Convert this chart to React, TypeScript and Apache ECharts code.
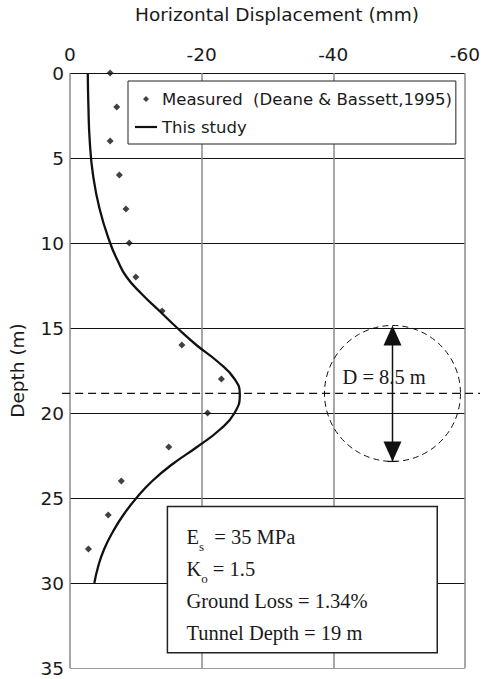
import React, { useEffect, useRef } from "react";
import * as echarts from "echarts";

// ---- data ----
const measuredDepth = [0, 2, 4, 6, 8, 10, 12, 14, 16, 18, 20, 22, 24, 26, 28];
const measuredDisp = [-6.1, -7.1, -6.1, -7.5, -8.5, -9.0, -10.0, -14.0, -17.0, -23.0, -20.9, -15.0, -7.8, -5.8, -2.8];

const modelDepth = [0, 2, 4, 6, 8, 10, 11, 12, 13, 14, 15, 16, 17, 18, 18.9, 20, 21, 22, 23, 24, 25, 26, 27, 28, 29, 30];
const modelDisp = [-2.7, -2.8, -3.0, -3.5, -4.5, -6.1, -7.2, -8.6, -10.9, -13.6, -16.3, -19.2, -22.5, -25.0, -25.8, -25.0, -22.7, -19.3, -15.6, -12.5, -10.1, -8.1, -6.5, -5.2, -4.3, -3.7];

const MEASURED = "Measured  (Deane & Bassett,1995)";
const MODEL = "This study";
const X_TITLE = "Horizontal Displacement (mm)";
const Y_TITLE = "Depth (m)";
const TUNNEL_LABEL = "D = 8.5 m";

// parameter box lines: [main, subscript, rest]
const paramLines: [string, string, string][] = [
  ["E", "s", "  = 35 MPa"],
  ["K", "o", " = 1.5"],
  ["Ground Loss = 1.34%", "", ""],
  ["Tunnel Depth = 19 m", "", ""],
];

// annotation geometry (data units)
const TUNNEL_X = -49;
const TUNNEL_DEPTH = 18.85;
const TUNNEL_R = 4.0;
const DASH_X0 = 1.2;
const DASH_X1 = -62.3;
const BOX_X0 = -14.8;
const BOX_X1 = -55.8;
const BOX_Y0 = 25.5;
const BOX_Y1 = 34.1;

const SANS = "DejaVu Sans";
const SERIF = "Liberation Serif";
const INK = "#1a1a1a";

export default function App() {
  const ref = useRef<HTMLDivElement>(null);

  useEffect(() => {
    if (!ref.current) return;
    const chart = echarts.init(ref.current, undefined, { renderer: "svg" });

    const richText = paramLines
      .map(([a, s, b]) => {
        let t = `{m|${a}}`;
        if (s) t += `{s|${s}}`;
        if (b) t += `{m|${b}}`;
        return t;
      })
      .join("\n");

    const option: any = {
      animation: false,
      backgroundColor: "#fff",
      title: {
        text: X_TITLE,
        left: 135,
        top: 5,
        padding: 0,
        textStyle: { fontFamily: SANS, fontSize: 18.5, fontWeight: "normal", color: INK },
      },
      legend: {
        left: 128,
        top: 81,
        orient: "vertical",
        data: [
          { name: MEASURED, icon: "path://M3 0L6 3L3 6L0 3Z" },
          { name: MODEL, icon: "path://M0 0H22V2.2H0Z" },
        ],
        itemWidth: 22,
        itemHeight: 6,
        itemGap: 8,
        padding: [8, 4, 7, 7],
        borderColor: "#222",
        borderWidth: 1,
        borderRadius: 0,
        backgroundColor: "#fff",
        selectedMode: false,
        textStyle: { fontFamily: SANS, fontSize: 16.5, color: INK, lineHeight: 20 },
        z: 10,
      },
      grid: { left: 68, right: 17, top: 73, bottom: 11 },
      xAxis: {
        type: "value",
        position: "top",
        min: -60,
        max: 0,
        interval: 20,
        inverse: true,
        axisLine: { show: false },
        axisTick: { show: false },
        axisLabel: { fontFamily: SANS, fontSize: 18.5, color: INK, margin: 9 },
        splitLine: { show: true, lineStyle: { color: "#8a8a8a", width: 1.5 } },
      },
      yAxis: {
        type: "value",
        min: 0,
        max: 35,
        interval: 5,
        inverse: true,
        name: Y_TITLE,
        nameLocation: "middle",
        nameRotate: 90,
        nameGap: 43,
        nameTextStyle: { fontFamily: SANS, fontSize: 18.5, color: INK },
        axisLine: { show: false },
        axisTick: { show: false },
        axisLabel: { fontFamily: SANS, fontSize: 18.5, color: INK, margin: 6 },
        splitLine: {
          show: true,
          lineStyle: {
            color: ["#111", "#111", "#111", "#111", "#111", "#111", "#111", "#999"],
            width: 1,
          },
        },
      },
      series: [
        {
          name: MEASURED,
          type: "scatter",
          symbol: "diamond",
          symbolSize: 7,
          itemStyle: { color: "#111" },
          data: measuredDepth.map((d, i) => [measuredDisp[i], d]),
          z: 4,
        },
        {
          name: MODEL,
          type: "line",
          smooth: 0.5,
          symbol: "none",
          lineStyle: { color: "#111", width: 2.3 },
          itemStyle: { color: "#111" },
          data: modelDepth.map((d, i) => [modelDisp[i], d]),
          z: 3,
        },
        {
          name: "annotations",
          type: "custom",
          silent: true,
          clip: false,
          z: 5,
          data: [[TUNNEL_X, TUNNEL_DEPTH]],
          renderItem: (_p: any, api: any) => {
            const [cx, cy] = api.coord([TUNNEL_X, TUNNEL_DEPTH]);
            const r = Math.abs(api.coord([TUNNEL_X, TUNNEL_DEPTH + TUNNEL_R])[1] - cy);
            const lx0 = api.coord([DASH_X0, TUNNEL_DEPTH])[0];
            const lx1 = api.coord([DASH_X1, TUNNEL_DEPTH])[0];
            const [bx0, by0] = api.coord([BOX_X0, BOX_Y0]);
            const [bx1, by1] = api.coord([BOX_X1, BOX_Y1]);
            const ah = 20;
            const aw = 9;
            return {
              type: "group",
              children: [
                {
                  type: "line",
                  shape: { x1: lx0, y1: cy, x2: lx1, y2: cy },
                  style: { stroke: "#111", lineWidth: 1.2, lineDash: [8, 5] },
                },
                {
                  type: "circle",
                  shape: { cx, cy, r },
                  style: { fill: "none", stroke: "#111", lineWidth: 1, lineDash: [6, 4] },
                },
                {
                  type: "line",
                  shape: { x1: cx, y1: cy - r + 4, x2: cx, y2: cy + r },
                  style: { stroke: "#111", lineWidth: 1.5 },
                },
                {
                  type: "polygon",
                  shape: { points: [[cx, cy - r], [cx - aw, cy - r + ah], [cx + aw, cy - r + ah]] },
                  style: { fill: "#111" },
                },
                {
                  type: "polygon",
                  shape: { points: [[cx, cy + r], [cx - aw, cy + r - ah], [cx + aw, cy + r - ah]] },
                  style: { fill: "#111" },
                },
                {
                  type: "line",
                  shape: { x1: cx - 5, y1: cy + r, x2: cx + 5, y2: cy + r },
                  style: { stroke: "#111", lineWidth: 1.2 },
                },
                {
                  type: "text",
                  style: {
                    text: TUNNEL_LABEL,
                    x: cx - 50,
                    y: cy - 16,
                    fill: INK,
                    fontFamily: SERIF,
                    fontSize: 20.5,
                    align: "left",
                    verticalAlign: "middle",
                  },
                },
                {
                  type: "rect",
                  shape: { x: bx0, y: by0, width: bx1 - bx0, height: by1 - by0 },
                  style: { fill: "#fff", stroke: "#222", lineWidth: 1.5 },
                },
                {
                  type: "text",
                  style: {
                    text: richText,
                    x: bx0 + 19,
                    y: by0 + 14,
                    fill: INK,
                    align: "left",
                    verticalAlign: "top",
                    rich: {
                      m: { fontFamily: SERIF, fontSize: 20.5, lineHeight: 32, fill: INK, verticalAlign: "middle" },
                      s: { fontFamily: SERIF, fontSize: 13, lineHeight: 20, fill: INK, verticalAlign: "bottom" },
                    },
                  },
                },
              ],
            };
          },
        },
      ],
    };

    chart.setOption(option);
    return () => chart.dispose();
  }, []);

  return <div ref={ref} style={{ width: 483, height: 679, position: "absolute", left: 0, top: 0 }} />;
}
